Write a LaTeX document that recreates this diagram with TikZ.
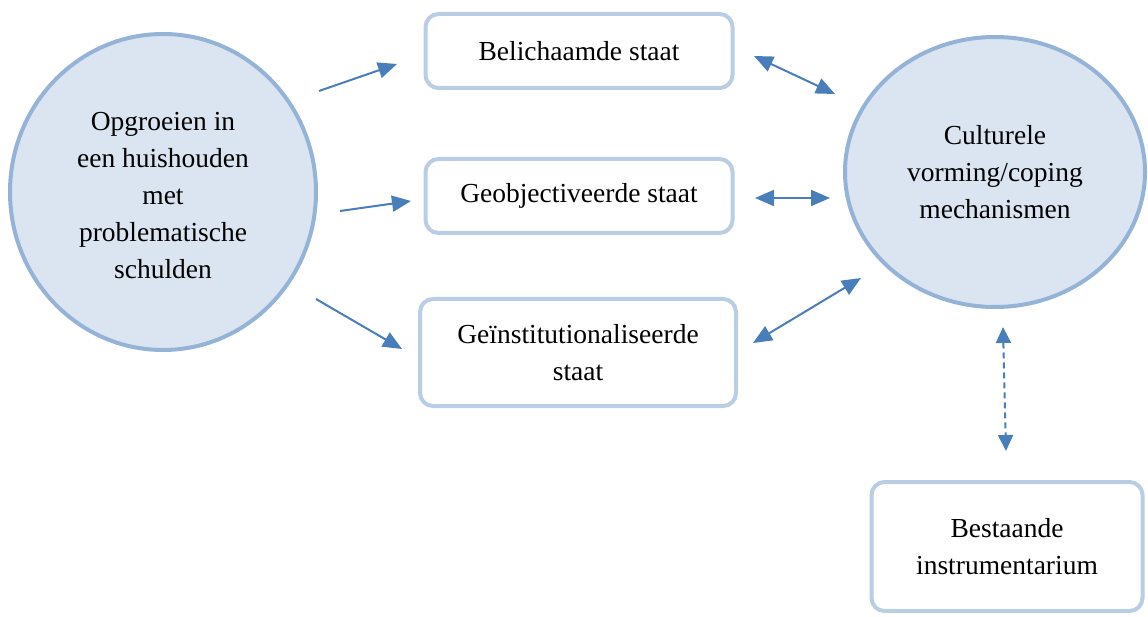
\documentclass[tikz,border=0pt]{standalone}
\usepackage{fontspec}
\setmainfont{Liberation Serif}
\usetikzlibrary{arrows.meta,shapes.geometric}
\definecolor{boxline}{HTML}{B9CDE5}
\definecolor{circline}{HTML}{95B3D7}
\definecolor{circfill}{HTML}{DBE5F1}
\definecolor{arrowcol}{HTML}{4A7EBB}
\tikzset{
  txt/.style={font=\fontsize{27.5pt}{37pt}\selectfont, align=center, text=black},
  circnode/.style={ellipse, draw=circline, fill=circfill, line width=4pt, inner sep=0pt, txt},
  boxnode/.style={rectangle, rounded corners=13pt, draw=boxline, fill=white, line width=4pt, inner sep=0pt, txt},
  conn/.style={draw=arrowcol, line width=2pt, -{Triangle[length=19pt,width=16pt]}},
  dconn/.style={draw=arrowcol, line width=2pt, {Triangle[length=19pt,width=16pt]}-{Triangle[length=19pt,width=16pt]}},
  dashconn/.style={draw=arrowcol, line width=2pt, dash pattern=on 6pt off 4pt, {Triangle[length=16pt,width=15pt]}-{Triangle[length=16pt,width=15pt]}}
}
\begin{document}
\begin{tikzpicture}[x=1pt,y=-1pt]
\useasboundingbox (0,0) rectangle (1148,617);
\node[circnode, minimum width=306pt, minimum height=316pt] (L) at (163,192) {\rule{0pt}{25pt}Opgroeien in\\een huishouden\\met\\problematische\\schulden};
\node[circnode, minimum width=300pt, minimum height=270pt] (R) at (995,172) {Culturele\\vorming/coping\\mechanismen};
\node[boxnode, minimum width=307pt, minimum height=74pt] (B1) at (579,51) {Belichaamde staat};
\node[boxnode, minimum width=307pt, minimum height=74pt] (B2) at (579,196) {Geobjectiveerde staat};
\node[boxnode, minimum width=316pt, minimum height=107pt] (B3) at (578,352.5) {Geïnstitutionaliseerde\\staat};
\node[boxnode, minimum width=271pt, minimum height=129pt] (B4) at (1007,546.5) {Bestaande\\instrumentarium};
% connector end points
\coordinate (a1s) at (319,91);  \coordinate (a1e) at (397,64);
\coordinate (a2s) at (340,211); \coordinate (a2e) at (411,201);
\coordinate (a3s) at (316,299); \coordinate (a3e) at (402,349);
\coordinate (a4s) at (754,56);  \coordinate (a4e) at (835,94);
\coordinate (a5s) at (755,198); \coordinate (a5e) at (830,198);
\coordinate (a6s) at (753,343); \coordinate (a6e) at (861,278);
\coordinate (a7s) at (1003,327); \coordinate (a7e) at (1006,451);
\draw[conn] (a1s) -- (a1e);
\draw[conn] (a2s) -- (a2e);
\draw[conn] (a3s) -- (a3e);
\draw[dconn] (a4s) -- (a4e);
\draw[dconn] (a5s) -- (a5e);
\draw[dconn] (a6s) -- (a6e);
\draw[dashconn] (a7s) -- (a7e);
\end{tikzpicture}
\end{document}
